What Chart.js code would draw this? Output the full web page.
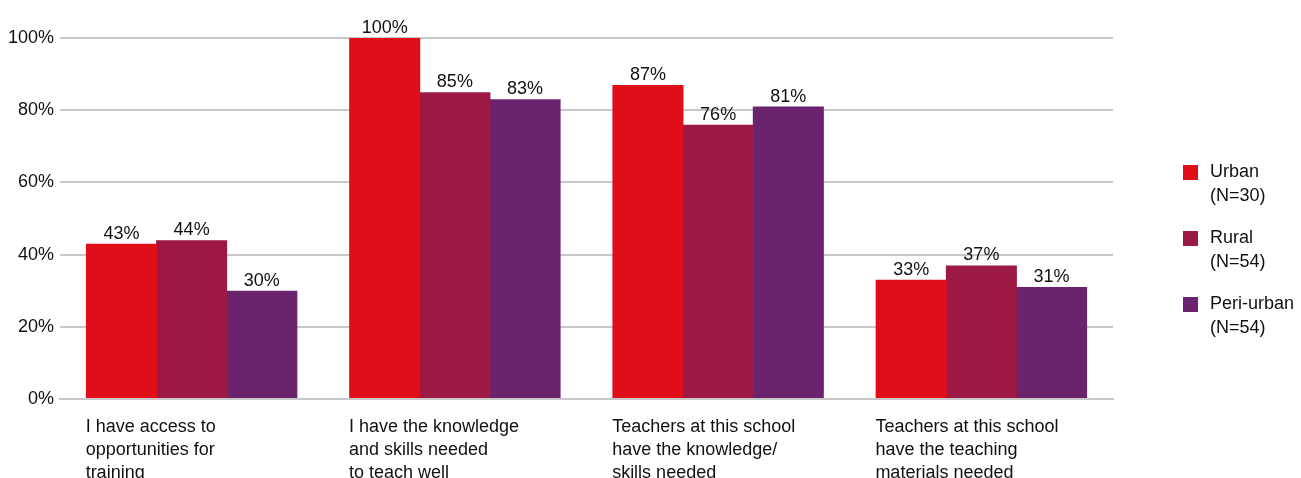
<!DOCTYPE html>
<html>
<head>
<meta charset="utf-8">
<script src="https://cdn.jsdelivr.net/npm/chart.js@4"></script>
<style>
  body { margin: 0; background: #fff; font-family: "Liberation Sans", Arial, sans-serif; }
  #wrap { position: relative; width: 1301px; height: 478px; overflow: hidden; }
  #legend { position: absolute; left: 1183px; top: 159px; color: #111; font-size: 18px; line-height: 24px; }
  .item { display: flex; align-items: flex-start; margin-bottom: 18px; }
  .box { width: 15px; height: 15px; margin-top: 6px; margin-right: 12px; flex: none; }
</style>
</head>
<body>
<div id="wrap">
  <canvas id="barChart" width="1301" height="478"></canvas>
  <div id="legend"></div>
</div>
<script>
var categories = [
  ["I have access to", "opportunities for", "training"],
  ["I have the knowledge", "and skills needed", "to teach well"],
  ["Teachers at this school", "have the knowledge/", "skills needed"],
  ["Teachers at this school", "have the teaching", "materials needed"]
];
var seriesNames = ["Urban", "Rural", "Peri-urban"];
var seriesNotes = ["(N=30)", "(N=54)", "(N=54)"];
var urban = [43, 100, 87, 33];
var rural = [44, 85, 76, 37];
var periUrban = [30, 83, 81, 31];
var yTicks = [0, 20, 40, 60, 80, 100];
var colors = ["rgb(224, 14, 24)", "rgb(155, 25, 66)", "rgb(107, 35, 110)"];

var textColor = "#111";
var fontFamily = "'Liberation Sans', Arial, sans-serif";

// legend on the right, built as html
var legendEl = document.getElementById('legend');
seriesNames.forEach(function (name, i) {
  var item = document.createElement('div');
  item.className = 'item';
  item.innerHTML = '<span class="box" style="background:' + colors[i] + '"></span>' +
    '<span>' + name + '<br>' + seriesNotes[i] + '</span>';
  legendEl.appendChild(item);
});

// draws the percent above each bar
var valueLabels = {
  id: 'valueLabels',
  afterDatasetsDraw: function (chart) {
    var ctx = chart.ctx;
    ctx.save();
    ctx.font = '18px ' + fontFamily;
    ctx.fillStyle = textColor;
    ctx.textAlign = 'center';
    ctx.textBaseline = 'alphabetic';
    chart.data.datasets.forEach(function (ds, i) {
      chart.getDatasetMeta(i).data.forEach(function (bar, j) {
        ctx.fillText(ds.data[j] + '%', bar.x, bar.y - 5);
      });
    });
    ctx.restore();
  }
};

var ctx = document.getElementById('barChart').getContext("2d");
var myChart = new Chart(ctx, {
  type: 'bar',
  data: {
    labels: categories,
    datasets: [
      { label: seriesNames[0], data: urban, backgroundColor: colors[0] },
      { label: seriesNames[1], data: rural, backgroundColor: colors[1] },
      { label: seriesNames[2], data: periUrban, backgroundColor: colors[2] }
    ]
  },
  options: {
    responsive: false,
    animation: false,
    devicePixelRatio: 1,
    layout: { padding: { top: 38, right: 188, left: 0, bottom: 0 } },
    // slight overlap so no seams show between neighbouring bars
    datasets: { bar: { categoryPercentage: 0.8, barPercentage: 1.012, borderWidth: 0 } },
    plugins: { legend: { display: false }, tooltip: { enabled: false } },
    scales: {
      x: {
        grid: { display: false },
        border: { color: '#c8c8c8', width: 2 },
        ticks: {
          align: 'start',
          labelOffset: -106,
          padding: 9,
          maxRotation: 0,
          autoSkip: false,
          color: textColor,
          font: { size: 18, family: fontFamily, lineHeight: 23 / 18 }
        },
        afterFit: function (scale) { scale.height = 79; }
      },
      y: {
        min: 0,
        max: 100,
        afterBuildTicks: function (scale) {
          scale.ticks = yTicks.map(function (v) { return { value: v }; });
        },
        grid: { color: '#c8c8c8', lineWidth: 2, drawTicks: false },
        border: { display: false },
        ticks: {
          padding: 6,
          color: textColor,
          font: { size: 18, family: fontFamily },
          callback: function (v) { return v + '%'; }
        },
        afterFit: function (scale) { scale.width = 60; }
      }
    }
  },
  plugins: [valueLabels]
});
</script>
</body>
</html>
